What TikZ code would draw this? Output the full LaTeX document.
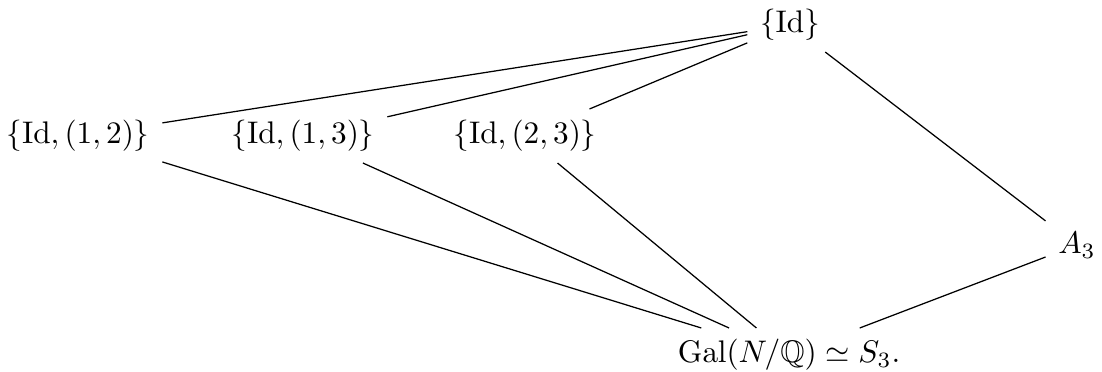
\documentclass[tikz,border=0pt]{standalone}
\usepackage{amssymb}
\begin{document}
\begin{tikzpicture}[x=0.32pt,y=-0.32pt,
  cell/.style={inner xsep=0.9ex, inner ysep=0.8ex},
  conn/.style={line width=0.4pt}]
\useasboundingbox (0,0) rectangle (1102,371);
\node[cell] (id) at (790,25) {$\{\mathrm{Id}\}$};
\node[cell] (a) at (78,136) {$\{\mathrm{Id},(1,2)\}$};
\node[cell] (b) at (303,136) {$\{\mathrm{Id},(1,3)\}$};
\node[cell] (c) at (525,136) {$\{\mathrm{Id},(2,3)\}$};
\node[cell] (A) at (1077,245) {$A_3$};
\node[cell] (G) at (789,355) {$\mathrm{Gal}(N/\mathbb{Q})\simeq S_3.$};
\draw[conn] (id) -- (a);
\draw[conn] (id) -- (b);
\draw[conn] (id) -- (c);
\draw[conn] (id) -- (A);
\draw[conn] (a) -- (G);
\draw[conn] (b) -- (G);
\draw[conn] (c) -- (G);
\draw[conn] (A) -- (G);
\end{tikzpicture}
\end{document}
